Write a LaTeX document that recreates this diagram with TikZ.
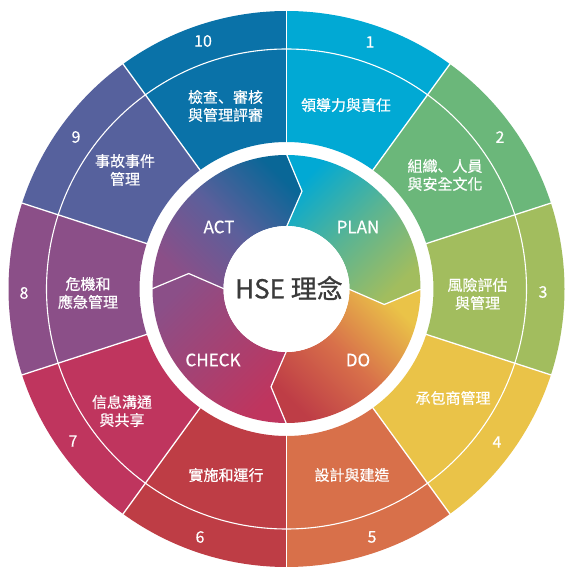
\documentclass[tikz,border=0pt]{standalone}
\usepackage{fontspec}
\setmainfont[FakeBold=0.4]{Noto Sans CJK TC}
\newfontfamily\scfont[FakeBold=0.4]{Noto Sans CJK SC}
\newfontfamily\hsefont[FakeBold=0.8]{Noto Sans CJK TC}
\definecolor{c1}{RGB}{1,169,212}
\definecolor{c2}{RGB}{107,183,122}
\definecolor{c3}{RGB}{162,189,94}
\definecolor{c4}{RGB}{234,195,72}
\definecolor{c5}{RGB}{216,112,74}
\definecolor{c6}{RGB}{190,61,69}
\definecolor{c7}{RGB}{191,53,94}
\definecolor{c8}{RGB}{139,79,136}
\definecolor{c9}{RGB}{86,97,157}
\definecolor{c10}{RGB}{10,114,168}
\definecolor{centertext}{RGB}{58,58,58}
\tikzset{
  seglabel/.style={text=white,align=center,font=\fontsize{15}{18}\selectfont},
  numlabel/.style={text=white,font=\fontsize{16}{18}\selectfont},
  pdcalabel/.style={text=white,font=\fontsize{17}{20}\selectfont},
  sepline/.style={white,line width=1.3pt},
}
\newcommand{\pdcapath}[1]{(#1:134) arc[start angle=#1,end angle=#1-90,radius=134] -- (#1-99:99) -- (#1-90:63) arc[start angle=#1-90,end angle=#1,radius=63] -- (#1-9:99) -- cycle}
\begin{document}
\begin{tikzpicture}[x=1pt,y=1pt]
\useasboundingbox (0,0) rectangle (565,568);
\clip (0,0) rectangle (565,568);
\fill[white] (0,0) rectangle (565,568);
\begin{scope}[shift={(286.5,279)}]
  % outer segments
  \foreach \i in {1,...,10}{
    \pgfmathsetmacro{\a}{90-36*(\i-1)}
    \pgfmathsetmacro{\b}{90-36*\i}
    \fill[c\i] (\a:147) -- (\a:278) arc[start angle=\a,end angle=\b,radius=278] -- (\b:147) arc[start angle=\b,end angle=\a,radius=147] -- cycle;
  }
  \draw[sepline,line width=1.1pt] (0,0) circle[radius=240];
  \foreach \i in {0,...,9}{
    \draw[sepline] (90-36*\i:146) -- (90-36*\i:279);
  }
  % PDCA ring
  \shade[top color=c10!90!black, bottom color=c8, middle color=c9!90!c8, shading angle=-45] \pdcapath{180};
  \shade[top color=c1, bottom color=c3, middle color=c1!45!c3, shading angle=45] \pdcapath{90};
  \shade[top color=c4, bottom color=c6!95!c7, middle color=c5, shading angle=-45] \pdcapath{0};
  \shade[top color=c8, bottom color=c7, middle color=c8!50!c7, shading angle=45] \pdcapath{-90};
  \foreach \a in {0,90,180,270}{
    \draw[sepline,line width=1.2pt] (\a:135) -- (\a-9:99) -- (\a:62);
  }
  \fill[white] (0,0) circle[radius=63];
  % center text
  \node[text=centertext,font=\hsefont\fontsize{26}{30}\selectfont] (hse) at (2.5,1) {HSE 理念};
  % PDCA labels
  \node[pdcalabel] (act) at (-67.5,62) {ACT};
  \node[pdcalabel] (plan) at (71.5,62) {PLAN};
  \node[pdcalabel] (do) at (71.5,-71) {DO};
  \node[pdcalabel] (check) at (-73.5,-71) {CHECK};
  % segment labels
  \node[seglabel] (s1) at (59.5,184) {領導力與責任};
  \node[seglabel] (s2) at (158.5,114) {組織{\scfont 、}人員\\與安全文化};
  \node[seglabel] (s3) at (191,-5) {風險評估\\與管理};
  \node[seglabel] (s4) at (166.5,-109) {承包商管理};
  \node[seglabel] (s5) at (65.5,-186) {設計與建造};
  \node[seglabel] (s6) at (-60.5,-186) {實施和運行};
  \node[seglabel] (s7) at (-164.5,-122) {信息溝通\\與共享};
  \node[seglabel] (s8) at (-198.5,-4) {危機和\\應急管理};
  \node[seglabel] (s9) at (-161.5,119) {事故事件\\管理};
  \node[seglabel] (s10) at (-61,183) {檢查{\scfont 、}審核\\與管理評審};
  % numbers
  \node[numlabel] (n1) at (83.5,247) {1};
  \node[numlabel] (n2) at (213.5,152) {2};
  \node[numlabel] (n3) at (256.5,-3) {3};
  \node[numlabel] (n4) at (210.5,-153) {4};
  \node[numlabel] (n5) at (85.5,-248) {5};
  \node[numlabel] (n6) at (-86.5,-248) {6};
  \node[numlabel] (n7) at (-213.5,-152) {7};
  \node[numlabel] (n8) at (-262.5,-4) {8};
  \node[numlabel] (n9) at (-210.5,152) {9};
  \node[numlabel] (n10) at (-83.5,248) {10};
\end{scope}
\end{tikzpicture}
\end{document}
